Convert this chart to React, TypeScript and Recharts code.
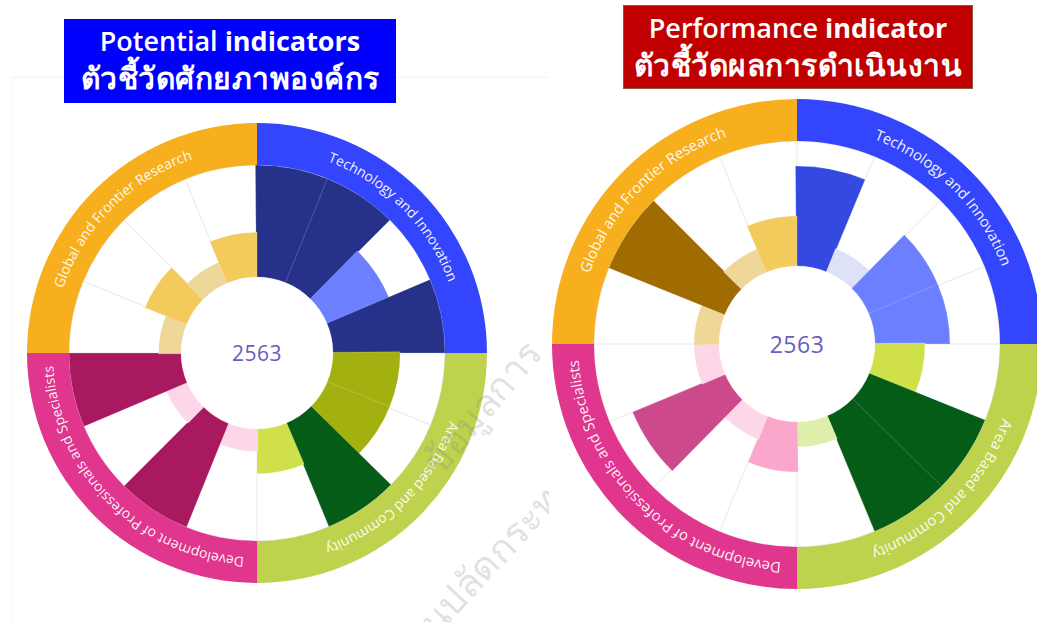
import React from 'react';
import {
  RadialBarChart,
  RadialBar,
  PolarGrid,
  PolarAngleAxis,
  PolarRadiusAxis,
  PieChart,
  Pie,
  Cell,
} from 'recharts';

// ---------- data ----------
// 16 sectors, clockwise from 12 o'clock; 4 per strategic group
const SECTORS = ['T1', 'T2', 'T3', 'T4', 'A1', 'A2', 'A3', 'A4', 'D1', 'D2', 'D3', 'D4', 'G1', 'G2', 'G3', 'G4'];
const GROUPS = [
  'Technology and Innovation',
  'Area Based and Community',
  'Development of Professionals and Specialists',
  'Global and Frontier Research',
];
const GROUP_SHARE = [1, 1, 1, 1];
const POTENTIAL = [5, 5, 3, 5, 3, 3, 5, 2, 1, 5, 1, 5, 1, 2, 1, 2];
const PERFORMANCE = [4, 1, 3, 3, 2, 5, 5, 1, 2, 1, 4, 1, 1, 5, 1, 2];
const LEVEL_DOMAIN = [0, 5];
const CENTER_LABEL = '2563';
const TITLE_LEFT_EN = ['Potential ', 'indicators'];
const TITLE_LEFT_TH = 'ตัวชี้วัดศักยภาพองค์กร';
const TITLE_RIGHT_EN = ['Performance ', 'indicator'];
const TITLE_RIGHT_TH = 'ตัวชี้วัดผลการดำเนินงาน';
const WATERMARK = ['ข้อมูลการ', 'สำนักงานปลัดกระทรวง'];

// ---------- styles ----------
const LEVEL_COLORS = [
  ['#dde2f6', '#a9b4ff', '#6b7fff', '#3349e0', '#263189'], // technology
  ['#ddefaa', '#cfe04a', '#a2b10f', '#2f7f1a', '#055c17'], // area
  ['#fdd6e8', '#fba6cb', '#e070a8', '#cc4a8c', '#a8195f'], // development
  ['#efd699', '#f2cb5c', '#d9a530', '#bb8510', '#a06b00'], // global
];
const RING_COLORS = ['#3446fd', '#bfd24e', '#e0368e', '#f7af1e'];
const FONT = "'Open Sans', 'Noto Sans', sans-serif";
const SECTOR_SPAN = 360 / SECTORS.length;

const RAD = Math.PI / 180;
const polar = (cx: number, cy: number, r: number, a: number) => ({
  x: cx + r * Math.cos(-a * RAD),
  y: cy + r * Math.sin(-a * RAD),
});

function makeRingLabel(id: string, fontSize: number) {
  return (p: any) => {
    const { cx, cy, innerRadius, outerRadius, startAngle, endAngle, index } = p;
    const r = (innerRadius + outerRadius) / 2 - fontSize * 0.34;
    const a1 = Math.max(startAngle, endAngle);
    const a2 = Math.min(startAngle, endAngle);
    const s = polar(cx, cy, r, a1);
    const e = polar(cx, cy, r, a2);
    const pid = `${id}-arc-${index}`;
    return (
      <g key={pid}>
        <defs>
          <path id={pid} d={`M ${s.x} ${s.y} A ${r} ${r} 0 0 1 ${e.x} ${e.y}`} fill="none" />
        </defs>
        <text fill="#ffffff" fillOpacity={0.95} fontSize={fontSize} fontFamily={FONT}>
          <textPath href={`#${pid}`} startOffset="50%" textAnchor="middle">
            {GROUPS[index]}
          </textPath>
        </text>
      </g>
    );
  };
}

type RoseProps = {
  id: string;
  values: number[];
  cx: number;
  cy: number;
  inner: number;
  barOuter: number;
  ringOuter: number;
  labelFont: number;
  centerFont: number;
};

function Rose({ id, values, cx, cy, inner, barOuter, ringOuter, labelFont, centerFont }: RoseProps) {
  const size = 520;
  const half = size / 2;
  const data = SECTORS.map((name, i) => ({ name, value: values[i] }));
  const ringData = GROUPS.map((name, i) => ({ name, value: GROUP_SHARE[i] }));
  const gridAngles = SECTORS.map((_, i) => 90 - SECTOR_SPAN * i);
  return (
    <div style={{ position: 'absolute', left: cx - half, top: cy - half, width: size, height: size }}>
      <div style={{ position: 'absolute', left: 0, top: 0 }}>
        <RadialBarChart
          width={size}
          height={size}
          data={data}
          layout="centric"
          cx={half}
          cy={half}
          innerRadius={inner}
          outerRadius={barOuter}
          startAngle={90 - SECTOR_SPAN}
          endAngle={-270 - SECTOR_SPAN}
          barCategoryGap={0}
          barGap={0}
          margin={{ top: 0, right: 0, bottom: 0, left: 0 }}
        >
          <PolarGrid gridType="circle" polarAngles={gridAngles} polarRadius={[barOuter]} stroke="#e8e8e8" strokeWidth={1} />
          <PolarAngleAxis type="category" dataKey="name" tick={false} axisLine={false} tickLine={false} />
          <PolarRadiusAxis type="number" domain={LEVEL_DOMAIN} tick={false} axisLine={false} tickLine={false} />
          <RadialBar dataKey="value" isAnimationActive={false} stroke="#ffffff" strokeOpacity={0.25} strokeWidth={0.8}>
            {data.map((d, i) => (
              <Cell key={i} fill={LEVEL_COLORS[Math.floor(i / 4)][d.value - 1]} />
            ))}
          </RadialBar>
        </RadialBarChart>
      </div>
      <div style={{ position: 'absolute', left: 0, top: 0 }}>
        <PieChart width={size} height={size} margin={{ top: 0, right: 0, bottom: 0, left: 0 }}>
          <Pie
            data={ringData}
            dataKey="value"
            nameKey="name"
            cx={half}
            cy={half}
            innerRadius={barOuter}
            outerRadius={ringOuter}
            startAngle={90}
            endAngle={-270}
            stroke="none"
            isAnimationActive={false}
            labelLine={false}
            label={makeRingLabel(id, labelFont)}
          >
            {ringData.map((_, i) => (
              <Cell key={i} fill={RING_COLORS[i]} />
            ))}
          </Pie>
        </PieChart>
      </div>
      <div
        style={{
          position: 'absolute',
          left: half - 60,
          top: half - 20,
          width: 120,
          height: 40,
          lineHeight: '40px',
          textAlign: 'center',
          fontFamily: FONT,
          fontSize: centerFont,
          color: '#6a5cc0',
          letterSpacing: 0.5,
        }}
      >
        {CENTER_LABEL}
      </div>
    </div>
  );
}

function TitleBox({ left, top, width, height, bg, border, en, th, enSize, thSize }: any) {
  return (
    <div
      style={{
        position: 'absolute',
        left,
        top,
        width,
        height,
        background: bg,
        border,
        boxSizing: 'border-box',
        color: '#ffffff',
        fontFamily: FONT,
        textAlign: 'center',
        paddingTop: 3,
      }}
    >
      <div style={{ fontSize: enSize, lineHeight: '37px', whiteSpace: 'nowrap' }}>
        <span style={{ fontWeight: 600 }}>{en[0]}</span>
        <span style={{ fontWeight: 700 }}>{en[1]}</span>
      </div>
      <div style={{ fontSize: thSize, lineHeight: '38px', fontWeight: 700, whiteSpace: 'nowrap', letterSpacing: 0.5 }}>
        {th}
      </div>
    </div>
  );
}

export default function App() {
  return (
    <div
      style={{
        position: 'absolute',
        left: 0,
        top: 0,
        width: 1037,
        height: 622,
        overflow: 'hidden',
        background: '#ffffff',
      }}
    >
      <svg width={1037} height={622} style={{ position: 'absolute', left: 0, top: 0 }}>
        <line x1={12} y1={77} x2={548} y2={77} stroke="#f1f1f1" strokeWidth={1} />
        <line x1={12} y1={77} x2={12} y2={622} stroke="#f3f3f3" strokeWidth={1} />
      </svg>
      <Rose id="pot" values={POTENTIAL} cx={257} cy={353} inner={76} barOuter={188} ringOuter={230} labelFont={14} centerFont={21} />
      <Rose id="perf" values={PERFORMANCE} cx={797} cy={343.5} inner={78} barOuter={203} ringOuter={245} labelFont={14.8} centerFont={23} />
      <svg width={1037} height={622} style={{ position: 'absolute', left: 0, top: 0, pointerEvents: 'none' }}>
        <defs>
          <clipPath id="wm-clip">
            <rect x={0} y={0} width={549} height={622} />
          </clipPath>
        </defs>
        <g clipPath="url(#wm-clip)" fill="#7a7a7a" fillOpacity={0.22} fontFamily={FONT} fontWeight={400} fontSize={38}>
          <text transform="translate(440,478) rotate(-50)">{WATERMARK[0]}</text>
          <text transform="translate(345,735) rotate(-47)">{WATERMARK[1]}</text>
        </g>
      </svg>
      <TitleBox left={64} top={19} width={332} height={84} bg="#0000fe" border="none" en={TITLE_LEFT_EN} th={TITLE_LEFT_TH} enSize={27} thSize={30} />
      <TitleBox left={623} top={5} width={350} height={84} bg="#c00000" border="1px solid #8a5a3a" en={TITLE_RIGHT_EN} th={TITLE_RIGHT_TH} enSize={27} thSize={30} />
    </div>
  );
}
